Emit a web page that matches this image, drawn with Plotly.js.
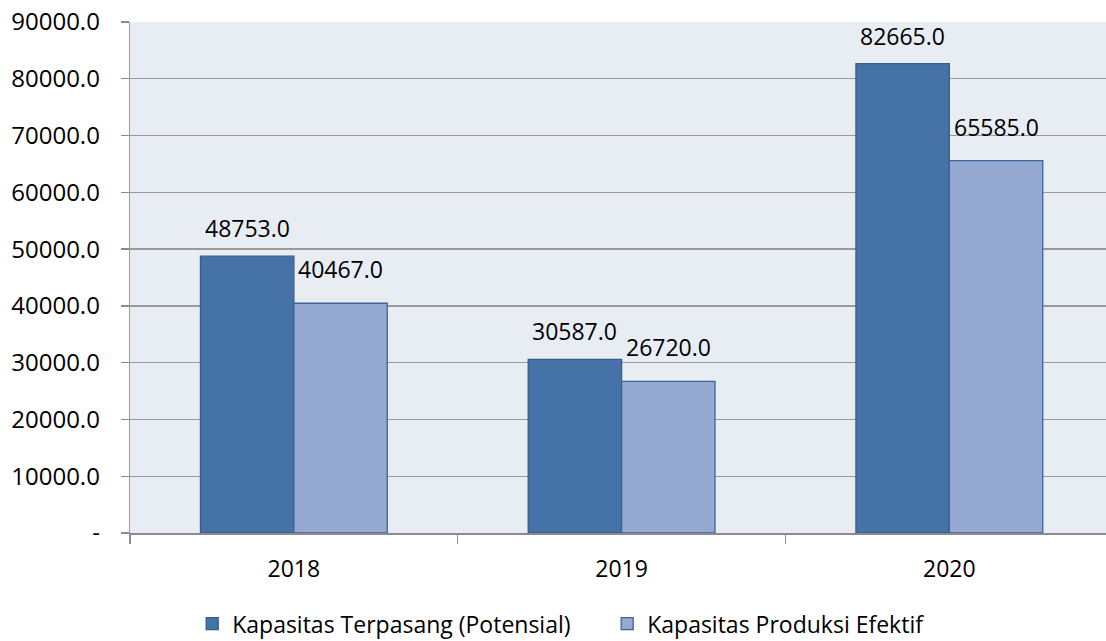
<!DOCTYPE html>
<html>
<head>
<meta charset="utf-8">
<script src="https://cdn.plot.ly/plotly-3.0.1.min.js"></script>
<style>html,body{margin:0;padding:0;background:#fff;}#chart{width:1106px;height:641px;}</style>
</head>
<body>
<div id="chart"></div>
<script>
const years = ["2018", "2019", "2020"];
const terpasang = [48753.0, 30587.0, 82665.0];
const efektif = [40467.0, 26720.0, 65585.0];
const seriesNames = ["Kapasitas Terpasang (Potensial)", "Kapasitas Produksi Efektif"];
const yTickVals = [0, 10000, 20000, 30000, 40000, 50000, 60000, 70000, 80000, 90000];
const yTickText = ["-", "10000.0", "20000.0", "30000.0", "40000.0", "50000.0", "60000.0", "70000.0", "80000.0", "90000.0"];

const fontFam = "'Open Sans', 'Noto Sans', sans-serif";
function fmt(v){ return v.toFixed(1); }

const traces = [
  {
    type: "bar", name: seriesNames[0], x: years, y: terpasang,
    marker: {color: "#4572a7", line: {color: "#385d8a", width: 1.3}}
  },
  {
    type: "bar", name: seriesNames[1], x: years, y: efektif,
    marker: {color: "#95a9d1", line: {color: "#3d639a", width: 1.3}}
  }
];

// data labels placed through the axis scales (bar offset within group)
const off = 0.143;
const annotations = [];
years.forEach((yr, i) => {
  annotations.push({x: i - off, y: terpasang[i], xref: "x", yref: "y", text: fmt(terpasang[i]),
    showarrow: false, yanchor: "bottom", yshift: 10, font: {family: fontFam, size: 23, color: "#000"}});
  annotations.push({x: i + off, y: efektif[i], xref: "x", yref: "y", text: fmt(efektif[i]),
    showarrow: false, yanchor: "bottom", yshift: 16, font: {family: fontFam, size: 23, color: "#000"}});
});

const layout = {
  width: 1106, height: 641,
  margin: {l: 130, r: 0, t: 22, b: 108, autoexpand: false},
  paper_bgcolor: "#ffffff",
  plot_bgcolor: "#e8ecf3",
  barmode: "group",
  bargap: 0.43,
  bargroupgap: 0,
  showlegend: true,
  legend: {
    orientation: "h", xref: "container", yref: "container",
    x: 0.549, xanchor: "center", y: 0.027, yanchor: "middle",
    font: {family: fontFam, size: 23, color: "#000"},
    itemwidth: 30, traceorder: "normal", bgcolor: "rgba(0,0,0,0)",
    entrywidthmode: "pixels", entrywidth: 370
  },
  annotations: annotations,
  xaxis: {
    type: "category",
    range: [-0.5, 2.478],
    tickson: "boundaries",
    ticks: "outside", ticklen: 9, tickcolor: "#8c8c8c", tickwidth: 1.5,
    showline: true, linecolor: "#8c8c8c", linewidth: 2,
    showgrid: false,
    tickfont: {family: fontFam, size: 23, color: "#000"},
    ticklabelstandoff: 14,
    automargin: false
  },
  yaxis: {
    range: [0, 90000],
    tickmode: "array", tickvals: yTickVals, ticktext: yTickText,
    ticks: "outside", ticklen: 8, tickcolor: "#8c8c8c", tickwidth: 1.3,
    showline: true, linecolor: "#9a9a9a", linewidth: 1.3,
    showgrid: true, gridcolor: "#9a9a9a", gridwidth: 1.3,
    zeroline: false,
    tickfont: {family: fontFam, size: 24, color: "#000"},
    ticklabelstandoff: 16,
    automargin: false
  }
};

Plotly.newPlot("chart", traces, layout, {displayModeBar: false, staticPlot: true});
</script>
</body>
</html>
